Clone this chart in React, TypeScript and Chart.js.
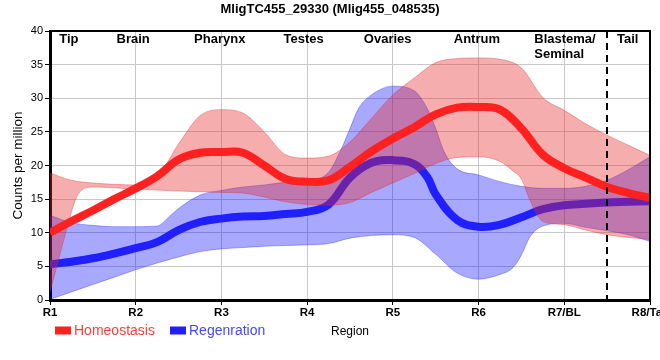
import React, { useEffect, useRef } from 'react';
import { Chart, registerables } from 'chart.js';

Chart.register(...registerables);

// ---------- data ----------
const chartTitle = 'MligTC455_29330 (Mlig455_048535)';
const xLabels = ['R1', 'R2', 'R3', 'R4', 'R5', 'R6', 'R7/BL', 'R8/Tail'];
const regionNames = ['Tip', 'Brain', 'Pharynx', 'Testes', 'Ovaries', 'Antrum', 'Blastema/\nSeminal', 'Tail'];
const seriesNames = ['Homeostasis', 'Regenration'];
const yAxisTitle = 'Counts per million';
const xAxisTitle = 'Region';

// Homeostasis mean and upper band (shared positions)
const homX = [1, 1.25, 1.5, 1.75, 2, 2.25, 2.5, 2.75, 3, 3.25, 3.5, 3.75, 4, 4.25, 4.5, 4.75, 5, 5.25, 5.5, 5.75, 6, 6.25, 6.5, 6.75, 7, 7.25, 7.5, 7.75, 8];
const homMean = [10.0, 11.7, 13.3, 15.0, 16.6, 18.4, 20.9, 21.9, 22.0, 21.9, 20.0, 18.0, 17.6, 17.8, 19.8, 22.1, 24.0, 25.7, 27.6, 28.6, 28.7, 28.3, 25.5, 21.6, 19.6, 18.2, 16.8, 15.9, 15.2];
const homUpper = [18.9, 17.8, 17.4, 17.2, 17.1, 18.3, 23.2, 27.4, 28.3, 27.8, 25.0, 21.6, 21.1, 21.4, 23.5, 27.0, 30.5, 33.0, 35.3, 35.9, 36.0, 35.8, 34.5, 30.1, 28.2, 26.2, 24.5, 23.0, 21.5];
// Homeostasis lower band
const homLowX = [1, 1.1, 1.2, 1.3, 1.4, 1.5, 2, 2.5, 3, 3.25, 3.5, 3.75, 4, 4.25, 4.5, 4.75, 5, 5.25, 5.5, 5.75, 6, 6.25, 6.4, 6.5, 6.6, 6.75, 7, 7.25, 7.5, 7.75, 8];
const homLower = [1.2, 6.0, 10.8, 15.0, 16.6, 16.8, 16.5, 16.2, 16.0, 15.9, 15.3, 14.6, 14.2, 14.1, 14.5, 16.0, 17.4, 18.8, 20.3, 21.2, 21.3, 20.6, 19.2, 18.0, 14.8, 11.7, 11.2, 10.4, 9.7, 9.3, 9.0];

// Regeneration mean
const regX = [1, 1.25, 1.5, 1.75, 2, 2.25, 2.5, 2.75, 3, 3.25, 3.5, 3.75, 4, 4.25, 4.5, 4.75, 5, 5.25, 5.4, 5.5, 5.75, 6, 6.25, 6.5, 6.75, 7, 7.25, 7.5, 7.75, 8];
const regMean = [5.3, 5.7, 6.2, 6.9, 7.7, 8.6, 10.4, 11.6, 12.1, 12.4, 12.5, 12.8, 13.1, 14.2, 18.2, 20.4, 20.8, 20.2, 18.3, 15.7, 11.9, 10.9, 11.2, 12.3, 13.5, 14.1, 14.3, 14.5, 14.6, 14.7];
// Regeneration upper band
const regUpX = [1, 1.25, 1.5, 1.75, 2, 2.25, 2.4, 2.5, 2.75, 3, 3.25, 3.5, 3.75, 4, 4.25, 4.4, 4.5, 4.6, 4.75, 5, 5.25, 5.4, 5.5, 5.6, 5.75, 6, 6.25, 6.5, 6.75, 7, 7.25, 7.5, 7.75, 8];
const regUpper = [12.6, 11.5, 11.1, 10.9, 10.9, 11.0, 12.5, 13.6, 15.6, 16.3, 16.8, 17.1, 17.5, 17.7, 19.0, 22.5, 25.5, 28.5, 30.5, 31.8, 31.1, 28.5, 25.5, 22.0, 19.5, 18.6, 17.6, 16.9, 16.6, 16.6, 16.9, 17.8, 19.4, 21.3];
// Regeneration lower band
const regLowX = [1, 1.25, 1.5, 1.75, 2, 2.25, 2.5, 2.75, 3, 3.25, 3.5, 3.75, 4, 4.25, 4.5, 4.75, 5, 5.25, 5.5, 5.75, 6, 6.25, 6.4, 6.5, 6.6, 6.75, 7, 7.25, 7.5, 7.75, 8];
const regLower = [0.1, 1.2, 2.3, 3.4, 4.5, 5.5, 6.4, 7.2, 7.6, 7.8, 8.0, 8.1, 8.2, 8.4, 9.2, 9.6, 9.7, 9.3, 6.8, 4.0, 3.1, 3.8, 4.8, 6.7, 9.4, 11.0, 11.4, 10.8, 10.3, 9.7, 8.7];

// ---------- styles ----------
const FONT = "'Liberation Sans', Arial, sans-serif";
const RED = 'rgb(255,32,32)';
const BLUE = 'rgb(32,32,255)';
const RED_FILL = 'rgba(228,40,40,0.38)';
const BLUE_FILL = 'rgba(0,0,255,0.34)';
const RED_EDGE = 'rgba(220,40,40,0.35)';
const BLUE_EDGE = 'rgba(0,0,255,0.3)';

const pts = (xs: number[], ys: number[]) => xs.map((x, i) => ({ x, y: ys[i] }));

// region label anchors (in x data units) and alignment
const regionAnchors = [1.22, 1.97, 2.98, 3.96, 4.94, 5.98, 6.65, 7.74];
const regionAlign: CanvasTextAlign[] = ['center', 'center', 'center', 'center', 'center', 'center', 'left', 'center'];
const dividerAt = 7.5;

const decorPlugin = {
  id: 'decor',
  afterDatasetsDraw(chart: any) {
    const { ctx, chartArea: a, scales } = chart;
    const x = scales.x;
    ctx.save();
    // dashed divider
    const px = Math.round(x.getPixelForValue(dividerAt));
    ctx.strokeStyle = '#000';
    ctx.lineWidth = 2;
    ctx.setLineDash([7, 5]);
    ctx.beginPath();
    ctx.moveTo(px, a.top);
    ctx.lineTo(px, a.bottom + 6);
    ctx.stroke();
    ctx.setLineDash([]);
    // frame top and right
    ctx.lineWidth = 2;
    ctx.beginPath();
    ctx.moveTo(a.left, a.top);
    ctx.lineTo(a.right, a.top);
    ctx.lineTo(a.right, a.bottom);
    ctx.stroke();
    // region labels
    ctx.fillStyle = '#000';
    ctx.font = `bold 13px ${FONT}`;
    ctx.textBaseline = 'middle';
    regionNames.forEach((name, i) => {
      const lx = x.getPixelForValue(regionAnchors[i]);
      ctx.textAlign = regionAlign[i];
      name.split('\n').forEach((line, j) => {
        ctx.fillText(line, lx, a.top + 8.5 + j * 14.5);
      });
    });
    ctx.restore();
  },
  afterDraw(chart: any) {
    const { ctx } = chart;
    ctx.save();
    // title
    ctx.fillStyle = '#000';
    ctx.font = `bold 13px ${FONT}`;
    ctx.textAlign = 'center';
    ctx.textBaseline = 'middle';
    ctx.fillText(chartTitle, 330, 9);
    // legend
    const items = [
      { name: seriesNames[0], color: RED, text: 'rgb(255,60,60)', x: 55 },
      { name: seriesNames[1], color: BLUE, text: 'rgb(70,70,255)', x: 170 },
    ];
    ctx.font = `14px ${FONT}`;
    ctx.textAlign = 'left';
    items.forEach((it) => {
      ctx.fillStyle = it.color;
      ctx.fillRect(it.x, 326.5, 16, 8);
      ctx.fillStyle = it.text;
      ctx.fillText(it.name, it.x + 19, 331);
    });
    ctx.restore();
  },
};

export default function App() {
  const ref = useRef<HTMLCanvasElement | null>(null);
  useEffect(() => {
    document.body.style.margin = '0';
    if (!ref.current) return;
    const band = { pointRadius: 0, pointHoverRadius: 0, cubicInterpolationMode: 'monotone' as const };
    const mean = { pointRadius: 0, pointHoverRadius: 0, tension: 0.4, borderWidth: 8, borderCapStyle: 'butt', borderJoinStyle: 'round', fill: false };
    const chart = new Chart(ref.current, {
      type: 'line',
      data: {
        datasets: [
          { ...mean, label: seriesNames[0], data: pts(homX, homMean), borderColor: RED, order: 0 },
          { ...band, label: 'hUpper', data: pts(homX, homUpper), borderColor: RED_EDGE, borderWidth: 1, backgroundColor: RED_FILL, fill: 2, order: 1 },
          { ...band, label: 'hLower', data: pts(homLowX, homLower), borderColor: RED_EDGE, borderWidth: 1, fill: false, order: 1 },
          { ...mean, label: seriesNames[1], data: pts(regX, regMean), borderColor: BLUE, order: 2 },
          { ...band, label: 'rUpper', data: pts(regUpX, regUpper), borderColor: BLUE_EDGE, borderWidth: 1, backgroundColor: BLUE_FILL, fill: 5, order: 3 },
          { ...band, label: 'rLower', data: pts(regLowX, regLower), borderColor: BLUE_EDGE, borderWidth: 1, fill: false, order: 3 },
        ] as any,
      },
      options: {
        animation: false,
        responsive: false,
        devicePixelRatio: 1,
        events: [],
        layout: { padding: { top: 31, right: 10, left: 0, bottom: 0 } },
        plugins: {
          legend: { display: false },
          title: { display: false },
          tooltip: { enabled: false },
        },
        scales: {
          x: {
            type: 'linear',
            min: 1,
            max: 8,
            afterFit: (s: any) => { s.height = 60; s.paddingLeft = 0; s.paddingRight = 0; },
            ticks: {
              stepSize: 1,
              autoSkip: false,
              maxRotation: 0,
              padding: 1,
              color: '#000',
              font: { family: FONT, size: 11.5, weight: 'bold' },
              callback: (v: any) => xLabels[Math.round(v) - 1] ?? '',
            },
            grid: { color: '#c8c8c8', lineWidth: 1, tickLength: 5, tickColor: '#000' },
            border: { color: '#000', width: 3 },
            title: { display: true, text: xAxisTitle, color: '#000', font: { family: FONT, size: 12 }, padding: { top: 0, bottom: 21 } },
          },
          y: {
            type: 'linear',
            min: 0,
            max: 40,
            afterFit: (s: any) => { s.width = 50; s.paddingTop = 0; s.paddingBottom = 0; },
            ticks: { stepSize: 5, padding: 2, color: '#000', font: { family: FONT, size: 11 } },
            grid: { color: '#c8c8c8', lineWidth: 1, tickLength: 5, tickColor: '#000' },
            border: { color: '#000', width: 3 },
            title: { display: true, text: yAxisTitle, color: '#000', font: { family: FONT, size: 13.5 }, padding: { top: 10, bottom: 0 } },
          },
        },
      } as any,
      plugins: [decorPlugin],
    });
    return () => chart.destroy();
  }, []);
  return (
    <div style={{ width: 660, height: 360 }}>
      <canvas ref={ref} width={660} height={360} style={{ display: 'block' }} />
    </div>
  );
}
